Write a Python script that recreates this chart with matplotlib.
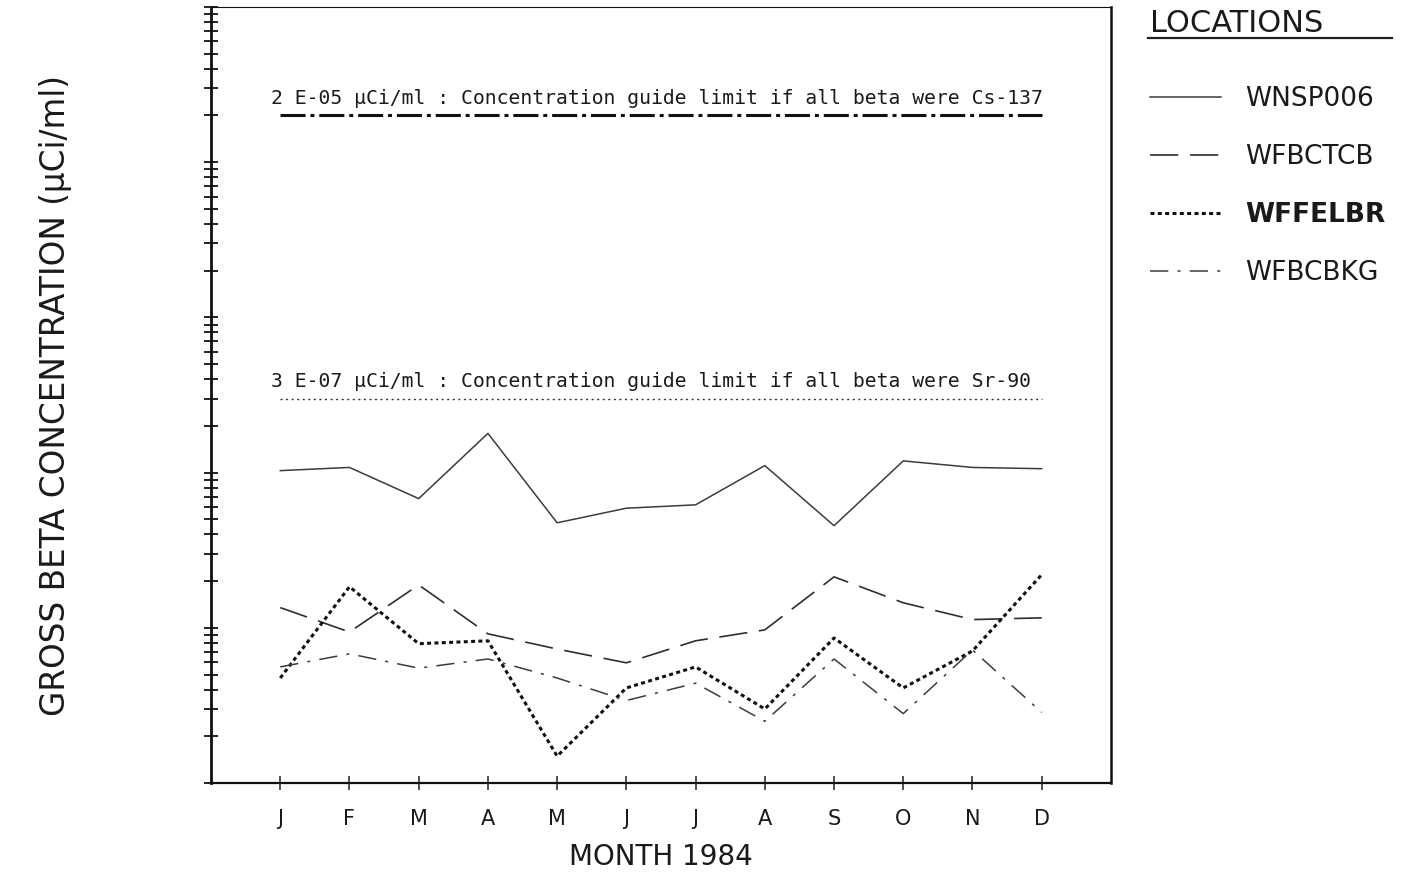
import numpy as np
import matplotlib
matplotlib.use('Agg')
import matplotlib.pyplot as plt
from matplotlib.ticker import LogLocator, NullFormatter, FixedLocator

# Monthly gross beta concentration (uCi/ml), 1984
months = ['J', 'F', 'M', 'A', 'M', 'J', 'J', 'A', 'S', 'O', 'N', 'D']
wnsp006 = [1.03e-7, 1.08e-7, 6.8e-8, 1.79e-7, 4.75e-8, 5.9e-8,
           6.2e-8, 1.11e-7, 4.55e-8, 1.19e-7, 1.08e-7, 1.06e-7]
wfbctcb = [1.35e-8, 9.4e-9, 1.89e-8, 9.15e-9, 7.3e-9, 5.95e-9,
           8.25e-9, 9.7e-9, 2.13e-8, 1.45e-8, 1.13e-8, 1.16e-8]
wffelbr = [4.75e-9, 1.84e-8, 7.9e-9, 8.25e-9, 1.49e-9, 4.1e-9,
           5.6e-9, 3.0e-9, 8.6e-9, 4.1e-9, 7.1e-9, 2.2e-8]
wfbcbkg = [5.6e-9, 6.8e-9, 5.5e-9, 6.3e-9, 4.75e-9, 3.4e-9,
           4.4e-9, 2.5e-9, 6.3e-9, 2.8e-9, 7.2e-9, 2.85e-9]
locations = ['WNSP006', 'WFBCTCB', 'WFFELBR', 'WFBCBKG']

# Concentration guide limits
cs137_limit = 2e-5
sr90_limit = 3e-7
cs137_text = '2 E-05 \u00b5Ci/ml : Concentration guide limit if all beta were Cs-137'
sr90_text = '3 E-07 \u00b5Ci/ml : Concentration guide limit if all beta were Sr-90'

plt.rcParams['font.family'] = ['DejaVu Sans']

fig = plt.figure(figsize=(14.05, 8.75), dpi=100)
ax = fig.add_axes([0.1502, 0.1051, 0.6405, 0.8869])

x = np.arange(1, len(months) + 1)

# Data series
ax.plot(x, wnsp006, color='#3c3c3c', lw=1.1, ls='-', label=locations[0])
ax.plot(x, wfbctcb, color='#2e2e2e', lw=1.2, ls=(0, (17, 7)), label=locations[1])
ax.plot(x, wffelbr, color='#111111', lw=2.2, ls=(0, (1.3, 1.1)), label=locations[2])
ax.plot(x, wfbcbkg, color='#3c3c3c', lw=1.1, ls=(0, (12, 6, 2, 6)), label=locations[3])
handles = ax.get_lines()[:4]

# Guide limit lines with their notes
ax.hlines(cs137_limit, x[0], x[-1], color='#111111', lw=2.2, ls=(0, (8.2, 1.6, 1.3, 1.6)))
ax.hlines(sr90_limit, x[0], x[-1], color='#333333', lw=1.0, ls=(0, (1.5, 2.5)))
for val, txt in [(cs137_limit, cs137_text), (sr90_limit, sr90_text)]:
    ax.annotate(txt, (0.86, val), xytext=(0, 5.5), textcoords='offset points',
                ha='left', va='bottom', fontsize=14.2, family='DejaVu Sans Mono',
                color='#1a1a1a')

# Axes: log scale, no y tick labels
ax.set_yscale('log')
ax.set_ylim(1e-9, 1e-4)
ax.set_xlim(0, 13)
ax.yaxis.set_major_locator(LogLocator(base=10, numticks=10))
ax.yaxis.set_minor_locator(LogLocator(base=10, subs=np.arange(2, 10), numticks=20))
ax.yaxis.set_major_formatter(NullFormatter())
ax.yaxis.set_minor_formatter(NullFormatter())
ax.tick_params(axis='y', which='both', direction='inout', length=10, width=1.3,
               color='#111111')
ax.xaxis.set_major_locator(FixedLocator(x))
ax.set_xticklabels(months)
ax.tick_params(axis='x', direction='inout', length=10, width=1.1, pad=14,
               labelsize=15, color='#222222', labelcolor='#1a1a1a')

for side, lw in [('left', 2.0), ('bottom', 1.6), ('right', 1.8), ('top', 0.8)]:
    ax.spines[side].set_linewidth(lw)
    ax.spines[side].set_color('#111111')

ax.set_xlabel('MONTH 1984', fontsize=20, labelpad=10, color='#1a1a1a')
ax.set_ylabel('GROSS BETA CONCENTRATION (\u00b5Ci/ml)', fontsize=23.5, color='#1a1a1a')
ax.yaxis.set_label_coords(-0.155, 0.5)

# Legend on the right
fig.text(0.8185, 0.973, 'LOCATIONS', fontsize=22, ha='left', va='center', color='#1a1a1a')
fig.add_artist(plt.Line2D([1148 / 1405, 1392 / 1405], [1 - 38 / 875, 1 - 38 / 875],
                          color='#222222', lw=1.6))
leg = fig.legend(handles=handles, labels=locations, loc='upper left',
                 bbox_to_anchor=(0.8185, 0.9015), frameon=False, fontsize=19,
                 handlelength=2.7, handletextpad=0.9, labelspacing=1.21,
                 borderpad=0, borderaxespad=0)
for t in leg.get_texts():
    t.set_color('#1a1a1a')
leg.get_texts()[2].set_fontweight('bold')

fig.savefig('out.png', dpi=100)
